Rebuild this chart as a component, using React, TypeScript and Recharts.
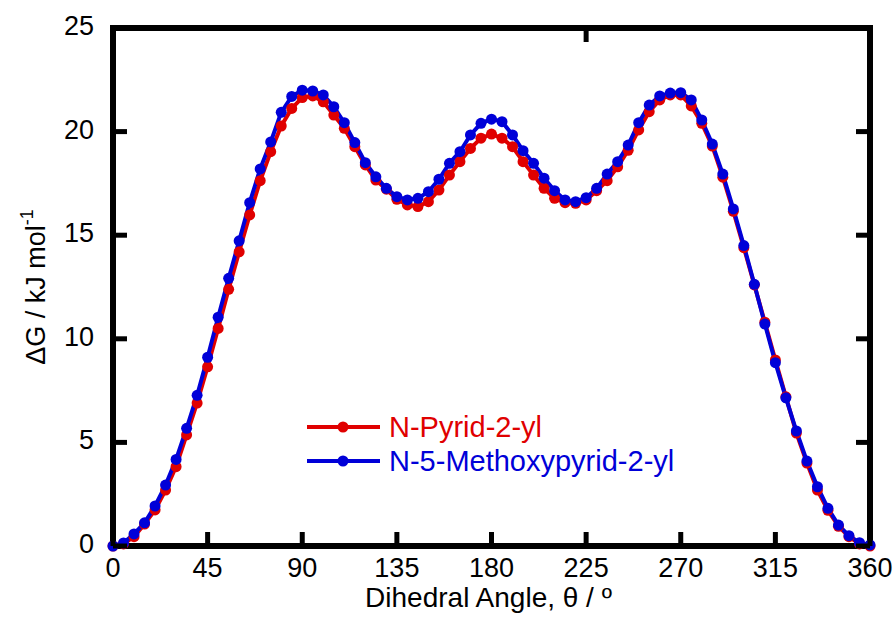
import React from 'react';
import { LineChart, Line, XAxis, YAxis, Legend, Label, ReferenceArea } from 'recharts';

// dihedral angle every 5 degrees
const angles = [
  0, 5, 10, 15, 20, 25, 30, 35, 40, 45, 50, 55, 60, 65, 70, 75, 80, 85, 90, 95,
  100, 105, 110, 115, 120, 125, 130, 135, 140, 145, 150, 155, 160, 165, 170, 175,
  180, 185, 190, 195, 200, 205, 210, 215, 220, 225, 230, 235, 240, 245, 250, 255,
  260, 265, 270, 275, 280, 285, 290, 295, 300, 305, 310, 315, 320, 325, 330, 335,
  340, 345, 350, 355, 360,
];

const pyridyl = [
  0, 0.1, 0.45, 1.06, 1.74, 2.7, 3.83, 5.36, 6.9, 8.65, 10.5, 12.39, 14.2, 15.98,
  17.63, 19.03, 20.27, 21.12, 21.64, 21.72, 21.44, 20.8, 20.16, 19.27, 18.39, 17.66,
  17.22, 16.73, 16.46, 16.38, 16.62, 17.18, 17.9, 18.55, 19.19, 19.68, 19.88, 19.68,
  19.27, 18.55, 17.9, 17.26, 16.78, 16.57, 16.54, 16.7, 17.15, 17.63, 18.3, 19.1,
  20.08, 20.96, 21.53, 21.77, 21.77, 21.24, 20.4, 19.3, 17.8, 16.15, 14.4, 12.6,
  10.8, 8.98, 7.2, 5.45, 4.0, 2.7, 1.72, 0.95, 0.45, 0.1, 0,
];

const methoxy = [
  0, 0.15, 0.58, 1.12, 1.93, 2.94, 4.18, 5.68, 7.27, 9.11, 11.04, 12.92, 14.73, 16.57,
  18.2, 19.5, 20.93, 21.7, 22.0, 21.96, 21.77, 21.2, 20.43, 19.47, 18.5, 17.82,
  17.26, 16.86, 16.7, 16.78, 17.1, 17.7, 18.47, 19.03, 19.84, 20.4, 20.6, 20.48,
  19.84, 19.08, 18.47, 17.75, 17.15, 16.7, 16.62, 16.81, 17.26, 17.95, 18.55, 19.35,
  20.43, 21.28, 21.72, 21.86, 21.88, 21.53, 20.56, 19.4, 17.95, 16.27, 14.5, 12.63,
  10.71, 8.85, 7.15, 5.55, 4.1, 2.86, 1.82, 1.01, 0.5, 0.16, 0.05,
];

const xTicks = [0, 45, 90, 135, 180, 225, 270, 315, 360];
const yTicks = [0, 5, 10, 15, 20, 25];

const series = [
  { key: 'pyridyl', name: 'N-Pyrid-2-yl', color: '#e00000' },
  { key: 'methoxy', name: 'N-5-Methoxypyrid-2-yl', color: '#0000d8' },
];

const data = angles.map((a, i) => ({ angle: a, pyridyl: pyridyl[i], methoxy: methoxy[i] }));

const FONT = '"Liberation Sans", Arial, Helvetica, sans-serif';
const TICK_LEN = 14;
const frame = { stroke: '#000', strokeWidth: 6, strokeLinecap: 'square' as const };

const BottomTick = (props: any) => {
  const { x, y, payload } = props;
  return (
    <g>
      <line x1={x} y1={y} x2={x} y2={y - TICK_LEN} stroke="#000" strokeWidth={5} />
      <text x={x} y={y + 31} textAnchor="middle" fontSize={27} fontFamily={FONT} fill="#000" strokeWidth={0}>
        {payload.value}
      </text>
    </g>
  );
};

const LeftTick = (props: any) => {
  const { x, y, payload } = props;
  return (
    <g>
      <line x1={x} y1={y} x2={x + TICK_LEN} y2={y} stroke="#000" strokeWidth={5} />
      <text x={x - 19} y={y + 7} textAnchor="end" fontSize={27} fontFamily={FONT} fill="#000" strokeWidth={0}>
        {payload.value}
      </text>
    </g>
  );
};

const TopTick = (props: any) => (
  <line x1={props.x} y1={props.y} x2={props.x} y2={props.y + TICK_LEN} stroke="#000" strokeWidth={5} />
);

const RightTick = (props: any) => (
  <line x1={props.x} y1={props.y} x2={props.x - TICK_LEN} y2={props.y} stroke="#000" strokeWidth={5} />
);

const renderLegend = () => (
  <svg width={440} height={72}>
    {series.map((s, i) => {
      const cy = 17 + i * 34;
      return (
        <g key={s.key}>
          <line x1={7} y1={cy} x2={80} y2={cy} stroke={s.color} strokeWidth={4} />
          <circle cx={43} cy={cy} r={5.5} fill={s.color} />
          <text x={89} y={cy + 10} fontSize={29} fontFamily={FONT} fill={s.color}>
            {s.name}
          </text>
        </g>
      );
    })}
  </svg>
);

export default function App() {
  return (
    <div style={{ position: 'absolute', left: 0, top: 0, width: 896, height: 617, background: '#fff' }}>
      <LineChart width={896} height={617} data={data} margin={{ top: 27, right: 25, bottom: 70, left: 112 }}>
        <XAxis
          dataKey="angle"
          type="number"
          domain={[0, 360]}
          ticks={xTicks}
          interval={0}
          height={1}
          tickSize={0}
          tickMargin={0}
          tickLine={false}
          axisLine={frame}
          tick={<BottomTick />}
        >
          <Label
            content={({ viewBox }: any) => (
              <text
                x={viewBox.x + viewBox.width / 2 - 3}
                y={607}
                textAnchor="middle"
                fontSize={28}
                fontFamily={FONT}
                fill="#000"
              >
                Dihedral Angle, θ / º
              </text>
            )}
          />
        </XAxis>
        <XAxis
          xAxisId="top"
          orientation="top"
          type="number"
          domain={[0, 360]}
          allowDataOverflow
          ticks={xTicks}
          interval={0}
          height={1}
          tickSize={0}
          tickMargin={0}
          tickLine={false}
          axisLine={frame}
          tick={<TopTick />}
        />
        <YAxis
          type="number"
          domain={[0, 25]}
          ticks={yTicks}
          interval={0}
          width={1}
          tickSize={0}
          tickMargin={0}
          tickLine={false}
          axisLine={frame}
          tick={<LeftTick />}
        >
          <Label
            content={({ viewBox }: any) => {
              const cy = viewBox.y + viewBox.height / 2;
              return (
                <text
                  x={45}
                  y={52}
                  transform={`rotate(-90, 45, ${cy}) translate(0, ${cy - 52})`}
                  textAnchor="middle"
                  fontSize={27}
                  fontFamily={FONT}
                  fill="#000"
                >
                  ΔG / kJ mol
                  <tspan dy={-12} fontSize={18}>-1</tspan>
                </text>
              );
            }}
          />
        </YAxis>
        <YAxis
          yAxisId="right"
          orientation="right"
          type="number"
          domain={[0, 25]}
          allowDataOverflow
          ticks={yTicks}
          interval={0}
          width={1}
          tickSize={0}
          tickMargin={0}
          tickLine={false}
          axisLine={frame}
          tick={<RightTick />}
        />
        {/* heavy plot frame */}
        <ReferenceArea
          x1={0}
          x2={360}
          y1={0}
          y2={25}
          fill="none"
          fillOpacity={0}
          stroke="#000"
          strokeWidth={6}
          ifOverflow="visible"
        />
        {series.map((s) => (
          <Line
            key={s.key}
            type="linear"
            dataKey={s.key}
            name={s.name}
            stroke={s.color}
            strokeWidth={4}
            dot={{ r: 5.5, fill: s.color, stroke: 'none' }}
            isAnimationActive={false}
          />
        ))}
        <Legend
          layout="vertical"
          align="center"
          verticalAlign="middle"
          content={renderLegend}
          wrapperStyle={{ left: 300, top: 410, width: 440, height: 72 }}
        />
      </LineChart>
    </div>
  );
}
